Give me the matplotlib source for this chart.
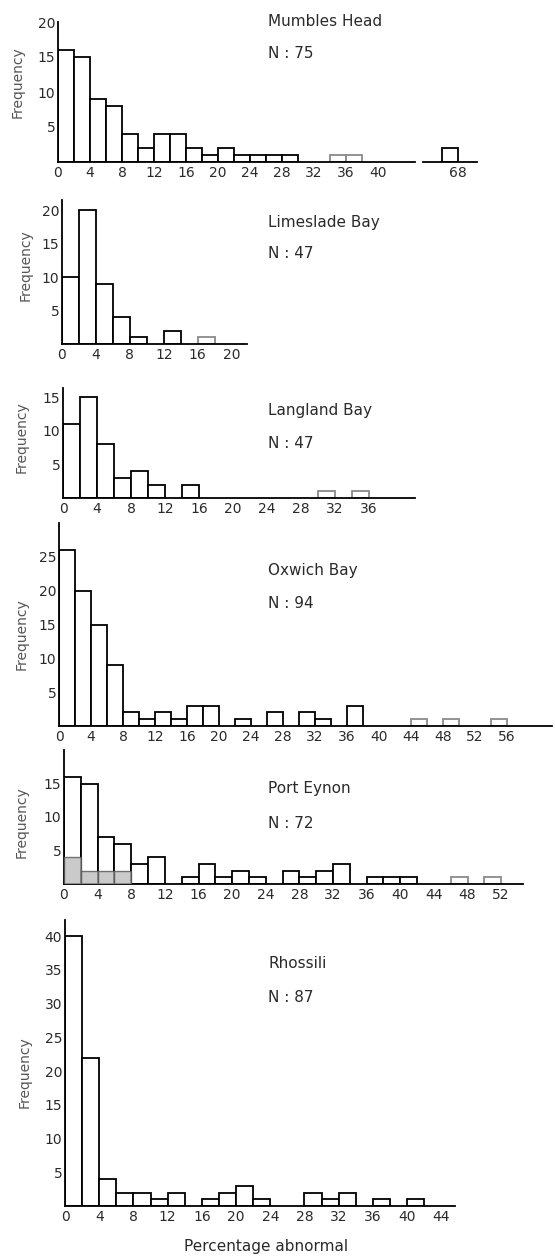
import matplotlib
matplotlib.use("Agg")
import matplotlib.pyplot as plt
import numpy as np

plt.rcParams['font.family'] = ['DejaVu Sans']

# Frequencies per 2 % class of abnormal, starting at 0
sites = ["Mumbles Head", "Limeslade Bay", "Langland Bay", "Oxwich Bay", "Port Eynon", "Rhossili"]
n_samples = [75, 47, 47, 94, 72, 87]

mumbles_counts = [16, 15, 9, 8, 4, 2, 4, 4, 2, 1, 2, 1, 1, 1, 1, 0, 0, 1, 1]
mumbles_tail_start = [66]
mumbles_tail_counts = [2]
limeslade_counts = [10, 20, 9, 4, 1, 0, 2, 0, 1]
langland_counts = [11, 15, 8, 3, 4, 2, 0, 2, 0, 0, 0, 0, 0, 0, 0, 1, 0, 1]
oxwich_counts = [26, 20, 15, 9, 2, 1, 2, 1, 3, 3, 0, 1, 0, 2, 0, 2, 1, 0, 3, 0,
                 0, 0, 1, 0, 1, 0, 0, 1]
porteynon_counts = [16, 15, 7, 6, 3, 4, 0, 1, 3, 1, 2, 1, 0, 2, 1, 2, 3, 0, 1, 1,
                    1, 0, 0, 1, 0, 1]
porteynon_shaded = [4, 2, 2, 2]
rhossili_counts = [40, 22, 4, 2, 2, 1, 2, 0, 1, 2, 3, 1, 0, 0, 2, 1, 2, 0, 1, 0, 1]

all_counts = [mumbles_counts, limeslade_counts, langland_counts,
              oxwich_counts, porteynon_counts, rhossili_counts]

# tick labels
x_ticks = [list(range(0, 41, 4)), list(range(0, 21, 4)), list(range(0, 37, 4)),
           list(range(0, 57, 4)), list(range(0, 53, 4)), list(range(0, 45, 4))]
mumbles_tail_tick = [68]
y_ticks = [[5, 10, 15, 20], [5, 10, 15, 20], [5, 10, 15],
           [5, 10, 15, 20, 25], [5, 10, 15], [5, 10, 15, 20, 25, 30, 35, 40]]

# bars that came out faded in the scan
faded = [[34, 36], [16], [30, 34], [44, 48, 54], [46, 50], []]

W, H = 555, 1257
fig = plt.figure(figsize=(W / 100, H / 100), dpi=100)

# panel layout in pixels: left, right, baseline, top, xmax, ymax
layout = [
    (58, 477, 162, 22, 52.4, 20),
    (62, 247, 344, 200, 21.8, 21.5),
    (63, 415, 498, 388, 41.4, 16.4),
    (59, 552, 726, 523, 61.6, 30),
    (64, 523, 884, 750, 54.6, 20),
    (65, 455, 1206, 920, 45.6, 42.4),
]
# title / N label positions (x, y title, y N) and Frequency label centre
title_pos = [(268, 22, 54), (268, 223, 254), (268, 411, 443),
             (268, 570, 603), (268, 788, 823), (268, 964, 997)]
ylab_pos = [(18, 82), (26, 265), (22, 437), (22, 634), (22, 822), (25, 1072)]

txt_col = '#2a2a2a'
tail_offset = 18  # Mumbles Head axis break: 66-68 drawn at 48-50

for i, counts in enumerate(all_counts):
    l, r, base, top, xmax, ymax = layout[i]
    ax = fig.add_axes([l / W, 1 - base / H, (r - l) / W, (base - top) / H])
    ax.set_xlim(0, xmax)
    ax.set_ylim(0, ymax)

    starts = np.arange(len(counts)) * 2
    counts = np.array(counts)
    keep = counts > 0
    cols = ['#8a8a8a' if s in faded[i] else 'black' for s in starts[keep]]
    ax.bar(starts[keep], counts[keep], width=2, align='edge', facecolor='white',
           edgecolor=cols, linewidth=1.3, zorder=2)

    if i == 0:
        tail = np.array(mumbles_tail_start) - tail_offset
        ax.bar(tail, mumbles_tail_counts, width=2, align='edge', facecolor='white',
               edgecolor='black', linewidth=1.3, zorder=2)
    if i == 4:
        ax.bar(np.arange(len(porteynon_shaded)) * 2, porteynon_shaded, width=2,
               align='edge', facecolor='#bdbdbd', edgecolor='#555555',
               linewidth=1.0, alpha=0.8, zorder=3)

    for side in ['top', 'right']:
        ax.spines[side].set_visible(False)
    ax.spines['left'].set_linewidth(1.3)
    ax.spines['bottom'].set_linewidth(1.3)

    ticks = list(x_ticks[i])
    labels = [str(t) for t in ticks]
    if i == 0:
        ax.spines['bottom'].set_visible(False)
        ax.plot([0, 44.6], [0, 0], color='black', lw=1.3, clip_on=False, zorder=4)
        ax.plot([45.6, xmax], [0, 0], color='black', lw=1.3, clip_on=False, zorder=4)
        ticks += [t - tail_offset for t in mumbles_tail_tick]
        labels += [str(t) for t in mumbles_tail_tick]
    ax.set_xticks(ticks)
    ax.set_xticklabels(labels)
    ax.set_yticks(y_ticks[i])
    ax.tick_params(length=0, labelsize=10, colors=txt_col)
    ax.tick_params(axis='x', pad=3)
    ax.tick_params(axis='y', pad=2)
    ax.patch.set_alpha(0)

    tx, ty, ny = title_pos[i]
    fig.text(tx / W, 1 - ty / H, sites[i], fontsize=11, color=txt_col, va='center')
    fig.text(tx / W, 1 - ny / H, "N : %d" % n_samples[i], fontsize=11,
             color=txt_col, va='center')
    lx, ly = ylab_pos[i]
    fig.text(lx / W, 1 - ly / H, "Frequency", rotation=90, fontsize=10,
             color='#555555', ha='center', va='center')

fig.text(266 / W, 1 - 1247 / H, "Percentage abnormal", fontsize=11,
         color=txt_col, ha='center', va='center')

fig.savefig("out.png", dpi=100)
